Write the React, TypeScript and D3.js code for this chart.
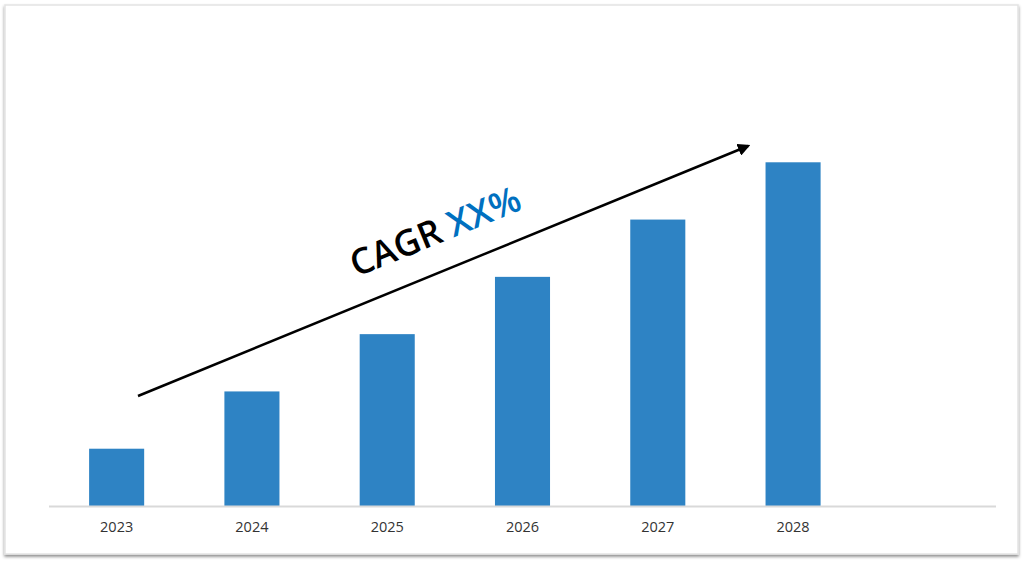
import React from "react";
import * as d3 from "d3";

const categories = ["2023", "2024", "2025", "2026", "2027", "2028", ""];
const values = [1, 2, 3, 4, 5, 6, null];
const cagrPrefix = "CAGR ";
const cagrValue = "XX%";

const W = 1024;
const H = 567;

export default function App() {
  const keys = categories.map((c, i) => c || `_${i}`);
  const x = d3.scaleBand<string>().domain(keys).range([49, 996]).paddingInner(0.593).paddingOuter(0.2965);
  const y = d3.scaleLinear().domain([0, 7]).range([506, 105]);
  const arrow = { x1: 138, y1: 396, x2: 748, y2: 146 };
  const angle = (Math.atan2(arrow.y2 - arrow.y1, arrow.x2 - arrow.x1) * 180) / Math.PI;
  return (
    <svg width={W} height={H} style={{ position: "absolute", left: 0, top: 0, background: "#fff" }}>
      <defs>
        <marker id="ah" viewBox="0 0 10 10" refX="8" refY="5" markerWidth="5" markerHeight="5" orient="auto">
          <path d="M0,0 L10,5 L0,10 z" fill="#000" />
        </marker>
        <filter id="sh" x="-5%" y="-5%" width="110%" height="110%">
          <feDropShadow dx="0" dy="2" stdDeviation="1.5" floodColor="#000" floodOpacity="0.45" />
        </filter>
      </defs>
      <rect x={5} y={5} width={1013} height={549} fill="#fff" stroke="#e3e3e3" strokeWidth={1.5} filter="url(#sh)" />
      {values.map((v, i) =>
        v == null ? null : (
          <rect key={i} x={x(keys[i])} y={y(v)} width={x.bandwidth()} height={y(0) - y(v)} fill="#2E83C4" />
        )
      )}
      <line x1={49} x2={996} y1={506.5} y2={506.5} stroke="#d9d9d9" strokeWidth={2} />
      {categories.map((c, i) =>
        c ? (
          <text key={c} x={(x(keys[i]) as number) + x.bandwidth() / 2} y={532} textAnchor="middle" fontFamily="'Open Sans', sans-serif" fontSize={14.5} fill="#333">
            {c}
          </text>
        ) : null
      )}
      <line x1={arrow.x1} y1={arrow.y1} x2={arrow.x2} y2={arrow.y2} stroke="#000" strokeWidth={2.5} markerEnd="url(#ah)" />
      <text transform={`translate(440,243) rotate(${angle})`} textAnchor="middle" fontFamily="'Open Sans', sans-serif" fontSize={36} fontWeight={600}>
        <tspan fill="#000">{cagrPrefix}</tspan>
        <tspan fill="#0070C0">{cagrValue}</tspan>
      </text>
    </svg>
  );
}
